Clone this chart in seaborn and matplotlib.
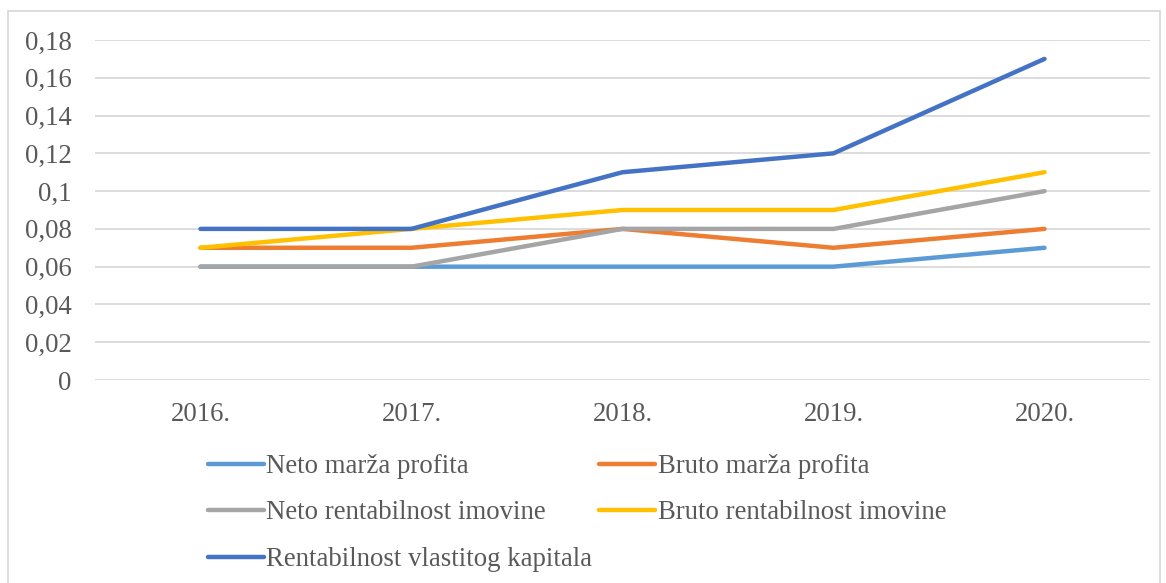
import matplotlib
matplotlib.use("Agg")
import matplotlib.pyplot as plt
import matplotlib.patches as mpatches
import seaborn as sns
import pandas as pd

years = ["2016.", "2017.", "2018.", "2019.", "2020."]
neto_marza = [0.06, 0.06, 0.06, 0.06, 0.07]
bruto_marza = [0.07, 0.07, 0.08, 0.07, 0.08]
neto_rent_imovine = [0.06, 0.06, 0.08, 0.08, 0.10]
bruto_rent_imovine = [0.07, 0.08, 0.09, 0.09, 0.11]
rent_kapitala = [0.08, 0.08, 0.11, 0.12, 0.17]
series_names = ["Neto marža profita", "Bruto marža profita",
                "Neto rentabilnost imovine", "Bruto rentabilnost imovine",
                "Rentabilnost vlastitog kapitala"]
y_ticks = [0, 0.02, 0.04, 0.06, 0.08, 0.10, 0.12, 0.14, 0.16, 0.18]
y_tick_labels = ["0", "0,02", "0,04", "0,06", "0,08", "0,1", "0,12", "0,14", "0,16", "0,18"]

colors = ["#5B9BD5", "#ED7D31", "#A5A5A5", "#FFC000", "#4472C4"]

series_values = [neto_marza, bruto_marza, neto_rent_imovine, bruto_rent_imovine, rent_kapitala]
rows = []
for name, vals in zip(series_names, series_values):
    for i, (yr, v) in enumerate(zip(years, vals)):
        rows.append({"Pokazatelj": name, "pos": i, "Vrijednost": v})
df = pd.DataFrame(rows)

sns.set_style("white")
plt.rcParams["font.family"] = ["Liberation Serif", "DejaVu Serif"]
text_color = "#595959"
fs = 19.3

fig = plt.figure(figsize=(11.66, 5.83), dpi=100)
ax = fig.add_axes([95 / 1166, 1 - 380 / 583, (1150 - 95) / 1166, 340 / 583])

sns.lineplot(data=df, x="pos", y="Vrijednost", hue="Pokazatelj",
             hue_order=series_names, palette=dict(zip(series_names, colors)),
             linewidth=3.2, sort=False, ax=ax, legend=True)
for ln in ax.get_lines():
    ln.set_solid_capstyle("round")

ax.set_xlim(-0.5, len(years) - 0.5)
ax.set_ylim(0, 0.18)
ax.set_xticks(range(len(years)))
ax.set_xticklabels(years)
ax.set_yticks(y_ticks)
ax.set_yticklabels(y_tick_labels)
ax.set_xlabel("")
ax.set_ylabel("")
ax.grid(axis="y", color="#D9D9D9", linewidth=1.3)
ax.set_axisbelow(True)
for s in ax.spines.values():
    s.set_visible(False)
ax.tick_params(axis="both", length=0, labelsize=fs, colors=text_color)
ax.tick_params(axis="y", pad=17)
ax.tick_params(axis="x", pad=16)

handles, labels = ax.get_legend_handles_labels()
ax.get_legend().remove()
hmap = dict(zip(labels, handles))
order = [series_names[0], series_names[2], series_names[4], series_names[1], series_names[3]]
leg = fig.legend([hmap[n] for n in order], order, ncol=2,
                 loc="upper left", bbox_to_anchor=(208 / 1166, 1 - 454 / 583),
                 frameon=False, fontsize=fs, handlelength=2.08, handletextpad=0.1,
                 columnspacing=0.25, labelspacing=0.8, borderpad=0, borderaxespad=0)
for t in leg.get_texts():
    t.set_color(text_color)
for h in leg.legend_handles:
    h.set_linewidth(3.2)

fig.patches.append(mpatches.Rectangle((8 / 1166, -0.01), (1160 - 8) / 1166, 1 - 11 / 583 + 0.01,
                                      transform=fig.transFigure, fill=False,
                                      edgecolor="#D9D9D9", linewidth=1.3))

fig.savefig("out.png", dpi=100)
